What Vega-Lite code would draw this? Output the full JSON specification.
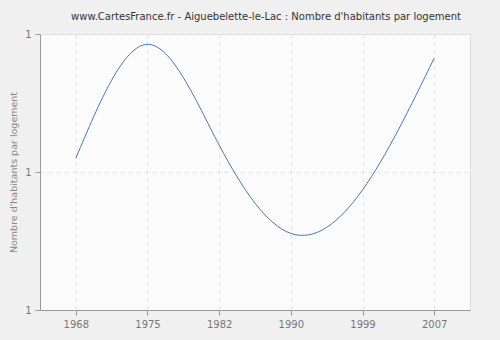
{
  "$schema": "https://vega.github.io/schema/vega-lite/v6.json",
  "width": 430,
  "height": 276,
  "autosize": {"type": "none"},
  "padding": {"left": 40, "top": 34, "right": 30, "bottom": 30},
  "background": "#f0f0f0",
  "title": {
    "text": "www.CartesFrance.fr - Aiguebelette-le-Lac : Nombre d'habitants par logement",
    "font": "DejaVu Sans",
    "fontSize": 10,
    "fontWeight": "normal",
    "color": "#333333",
    "anchor": "middle",
    "dx": 11,
    "offset": 7
  },
  "config": {
    "view": {"fill": "#fbfbfb", "stroke": "#dddddd", "strokeWidth": 1},
    "axis": {
      "labelFont": "DejaVu Sans",
      "labelFontSize": 10,
      "labelColor": "#777777",
      "titleFont": "DejaVu Sans",
      "titleFontSize": 9.5,
      "titleFontWeight": "normal",
      "titleColor": "#888888",
      "domainColor": "#999999",
      "tickColor": "#999999",
      "tickSize": 5,
      "gridColor": "#e4e4e4",
      "gridDash": [4, 4],
      "gridWidth": 1
    }
  },
  "data": {
    "values": [
      {"annee": "1968", "valeur": 1.220},
      {"annee": "1975", "valeur": 1.385},
      {"annee": "1982", "valeur": 1.239},
      {"annee": "1990", "valeur": 1.111},
      {"annee": "1999", "valeur": 1.174},
      {"annee": "2007", "valeur": 1.365}
    ]
  },
  "mark": {"type": "line", "interpolate": "natural", "color": "#4a78b0", "strokeWidth": 1},
  "encoding": {
    "x": {
      "field": "annee",
      "type": "ordinal",
      "scale": {"type": "point", "padding": 0.5},
      "axis": {"title": null, "labelAngle": 0, "labelPadding": 4, "grid": true}
    },
    "y": {
      "field": "valeur",
      "type": "quantitative",
      "scale": {"domain": [1.0, 1.4], "zero": false, "nice": false},
      "axis": {
        "title": "Nombre d'habitants par logement",
        "values": [1.0, 1.2, 1.4],
        "format": ".0f",
        "grid": true,
        "titlePadding": 6,
        "labelPadding": 4
      }
    }
  }
}
